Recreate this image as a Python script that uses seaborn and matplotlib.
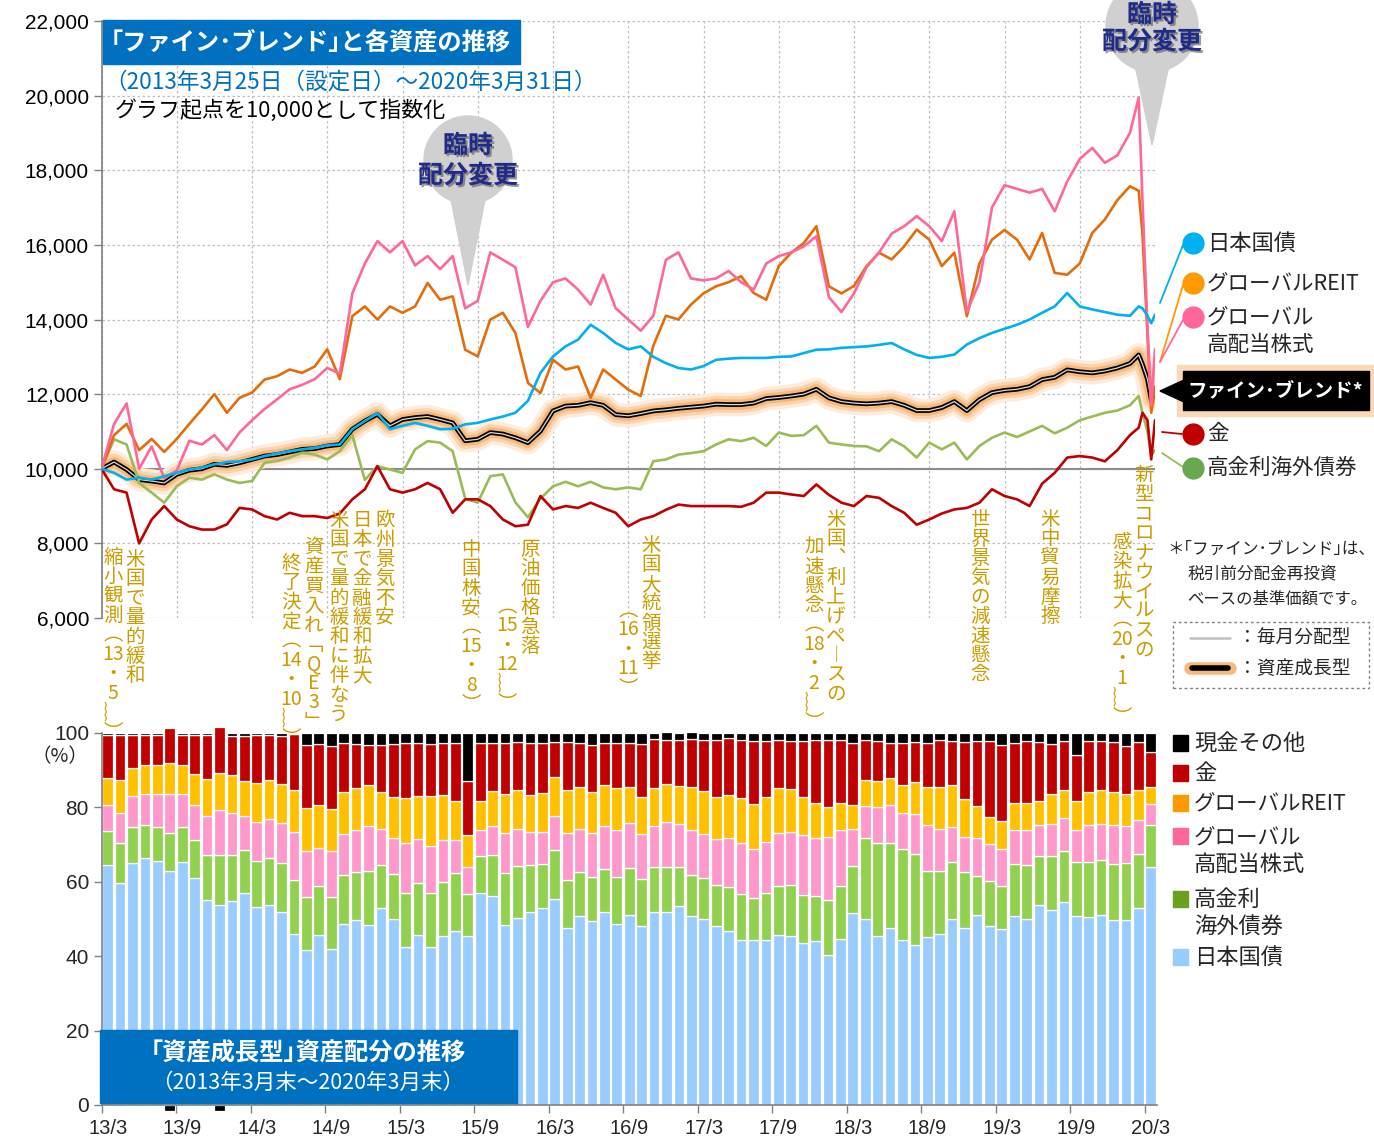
import re
import matplotlib
matplotlib.use("Agg")
import matplotlib.pyplot as plt
import matplotlib.patheffects as pe
from matplotlib.lines import Line2D
from matplotlib.patches import Rectangle, Ellipse, Polygon
import numpy as np
import seaborn as sns

# ---------------- data: index values (start = 10,000) ----------------
# month positions: 0 = end of 2013/3 ... 84 = end of 2020/3
line_months = list(range(0, 83)) + [82.7, 83.0, 83.4, 83.7, 84.0]

jgb_idx = [10000, 9890, 9710, 9760, 9710, 9800, 9890, 9980, 10030, 10120,
           10180, 10200, 10250, 10340, 10410, 10470, 10520, 10560, 10630, 10650,
           11060, 11280, 11500, 11060, 11150, 11230, 11150, 11060, 11070, 11190,
           11230, 11320, 11400, 11500, 11820, 12570, 13010, 13280, 13460, 13860,
           13640, 13370, 13200, 13280, 13000, 12830, 12700, 12660, 12750, 12920,
           12950, 12970, 12970, 12970, 13000, 13010, 13100, 13190, 13200, 13240,
           13260, 13280, 13320, 13370, 13200, 13050, 12970, 13000, 13060, 13330,
           13500, 13640, 13750, 13860, 14000, 14180, 14350, 14710, 14350, 14270,
           14200, 14130, 14100,
           14350, 14300, 14100, 13900, 14130]

reit_idx = [10000, 10900, 11200, 10500, 10800, 10450, 10800, 11200, 11590, 12000,
            11500, 11900, 12040, 12390, 12480, 12660, 12570, 12740, 13200, 12400,
            14090, 14350, 14000, 14350, 14180, 14350, 14980, 14530, 14620, 13190,
            13010, 14000, 14180, 13640, 12300, 12030, 12920, 12660, 12740, 11900,
            12660, 12390, 12120, 11950, 13300, 14100, 14000, 14400, 14700, 14890,
            15000, 15160, 14710, 14530, 15430, 15790, 16050, 16500, 14890, 14700,
            14900, 15430, 15790, 15610, 15960, 16410, 16140, 15430, 15790, 14090,
            15500, 16140, 16400, 16140, 15610, 16320, 15250, 15200, 15500, 16320,
            16680, 17200, 17570,
            17450, 16300, 13600, 11500, 12200]

stock_idx = [10000, 11200, 11750, 10000, 10600, 9750, 9950, 10750, 10650, 10900,
             10500, 10970, 11300, 11600, 11860, 12130, 12250, 12400, 12700, 12550,
             14700, 15500, 16100, 15800, 16100, 15450, 15700, 15350, 15700, 14300,
             14500, 15800, 15600, 15400, 13800, 14500, 15000, 15100, 14800, 14400,
             15200, 14300, 14000, 13700, 14100, 15600, 15800, 15100, 15050, 15100,
             15300, 15000, 14800, 15500, 15700, 15800, 15960, 16230, 14600, 14200,
             14700, 15400, 15800, 16300, 16500, 16770, 16500, 16100, 16900, 14200,
             15000, 17000, 17600, 17500, 17400, 17500, 16900, 17700, 18300, 18600,
             18200, 18400, 19000,
             19950, 17200, 13800, 11700, 13200]

hy_idx = [10000, 10790, 10650, 9620, 9360, 9090, 9530, 9760, 9710, 9850,
          9710, 9620, 9670, 10160, 10210, 10300, 10430, 10380, 10250, 10470,
          10900, 9700, 10070, 9980, 9890, 10520, 10740, 10700, 10470, 9200,
          9090, 9800, 9850, 9100, 8700, 9200, 9530, 9650, 9530, 9650,
          9500, 9450, 9500, 9450, 10200, 10250, 10380, 10420, 10470, 10650,
          10790, 10740, 10830, 10610, 10970, 10880, 10900, 11150, 10700, 10650,
          10610, 10600, 10470, 10790, 10600, 10300, 10700, 10520, 10700, 10250,
          10610, 10830, 10970, 10850, 11000, 11150, 10950, 11100, 11300, 11400,
          11500, 11560, 11700,
          11950, 11500, 11000, 10350, 10500]

gold_idx = [10000, 9450, 9360, 8000, 8640, 9000, 8640, 8460, 8370, 8370,
            8510, 8950, 8910, 8730, 8640, 8820, 8730, 8730, 8680, 8800,
            9180, 9450, 10070, 9450, 9360, 9450, 9620, 9450, 8820, 9180,
            9180, 9000, 8640, 8460, 8500, 9270, 8910, 9000, 8950, 9090,
            8950, 8820, 8460, 8640, 8730, 8900, 9040, 9000, 9000, 9000,
            9000, 8980, 9090, 9360, 9360, 9310, 9270, 9580, 9300, 9090,
            9000, 9270, 9220, 9000, 8820, 8500, 8640, 8800, 8910, 8950,
            9090, 9450, 9270, 9180, 9000, 9600, 9890, 10300, 10340, 10300,
            10200, 10500, 10900,
            11100, 11500, 11300, 10250, 11300]

fund_growth = [10000, 10180, 9980, 9710, 9670, 9620, 9850, 9960, 10000, 10120,
               10090, 10160, 10250, 10340, 10380, 10450, 10520, 10540, 10610, 10650,
               11060, 11280, 11460, 11150, 11320, 11370, 11400, 11320, 11230, 10750,
               10790, 10970, 10930, 10830, 10700, 11010, 11550, 11680, 11700, 11770,
               11700, 11450, 11420, 11480, 11550, 11580, 11620, 11650, 11680, 11730,
               11720, 11720, 11760, 11880, 11910, 11950, 12000, 12130, 11900, 11800,
               11760, 11740, 11760, 11800, 11700, 11560, 11560, 11640, 11800, 11560,
               11850, 12040, 12100, 12130, 12200, 12390, 12450, 12650, 12600, 12570,
               12620, 12700, 12820,
               13050, 12800, 12400, 11850, 12100]

fund_monthly = [10000, 10180, 9980, 9710, 9670, 9620, 9850, 9960, 10000, 10120,
                10090, 10160, 10250, 10340, 10380, 10450, 10520, 10540, 10610, 10650,
                11060, 11280, 11460, 11150, 11320, 11370, 11400, 11320, 11230, 10750,
                10790, 10970, 10930, 10830, 10700, 11010, 11550, 11680, 11700, 11770,
                11700, 11450, 11420, 11480, 11550, 11580, 11620, 11650, 11680, 11730,
                11720, 11720, 11760, 11880, 11910, 11950, 12000, 12130, 11900, 11800,
                11760, 11740, 11760, 11800, 11700, 11560, 11560, 11640, 11800, 11560,
                11850, 12040, 12100, 12130, 12200, 12390, 12450, 12650, 12600, 12570,
                12620, 12700, 12820,
                13050, 12800, 12400, 11850, 12100]

# ---------------- data: monthly allocation (%) of 資産成長型 ----------------
alloc_jgb = [64.5, 59.6, 65.0, 66.5, 65.6, 62.9, 65.4, 60.9, 55.2, 53.8,
             54.9, 56.9, 53.2, 53.8, 51.9, 46.0, 41.8, 45.6, 42.0, 48.6,
             49.6, 48.5, 52.9, 50.1, 42.4, 45.6, 42.4, 45.3, 46.7, 45.3,
             56.9, 56.2, 48.5, 50.4, 52.0, 52.9, 55.3, 47.6, 50.7, 49.4,
             51.8, 48.6, 51.0, 48.0, 51.8, 51.8, 53.4, 50.9, 50.0, 48.2,
             46.7, 44.4, 44.4, 44.4, 45.8, 45.5, 43.6, 44.0, 40.4, 44.7,
             51.6, 50.0, 45.5, 47.7, 44.4, 43.1, 45.1, 46.0, 50.1, 47.6,
             51.1, 48.2, 47.3, 50.9, 50.0, 53.8, 52.5, 54.7, 50.9, 50.5,
             51.0, 49.6, 49.6, 52.9, 63.9]
alloc_hy = [9.1, 10.7, 9.6, 8.9, 9.0, 10.3, 9.4, 10.3, 11.9, 13.4,
            12.3, 11.6, 12.4, 12.7, 13.1, 14.5, 14.1, 13.3, 13.8, 13.2,
            13.1, 14.3, 11.6, 11.9, 14.5, 14.0, 14.5, 14.7, 15.8, 11.4,
            10.1, 11.1, 14.0, 13.8, 12.5, 12.0, 13.2, 12.9, 12.0, 12.0,
            11.7, 12.6, 12.8, 12.8, 12.3, 12.3, 10.7, 11.0, 11.1, 11.0,
            12.0, 12.3, 11.3, 12.7, 13.1, 13.6, 12.9, 12.2, 14.7, 14.3,
            12.7, 21.7, 24.8, 22.8, 24.5, 24.5, 17.9, 16.9, 15.3, 15.0,
            10.5, 11.9, 11.6, 13.9, 14.5, 13.1, 14.4, 13.6, 14.5, 14.9,
            14.9, 15.2, 15.5, 14.7, 11.5]
alloc_stock = [7.1, 8.3, 8.4, 8.3, 9.1, 10.4, 8.9, 9.5, 10.7, 12.2,
               11.4, 9.2, 10.5, 10.5, 10.7, 12.9, 12.5, 10.3, 12.5, 11.0,
               11.3, 12.2, 9.8, 9.8, 13.4, 11.8, 12.7, 11.3, 8.7, 7.3,
               6.9, 7.8, 10.5, 9.9, 8.9, 8.6, 9.2, 12.5, 11.4, 11.6,
               11.5, 12.7, 11.9, 12.0, 10.9, 11.9, 11.4, 11.9, 11.7, 12.3,
               13.1, 13.6, 13.2, 13.6, 14.1, 14.3, 16.0, 15.6, 16.9, 14.9,
               9.9, 8.7, 9.8, 10.2, 9.5, 10.5, 12.2, 11.2, 9.2, 9.4,
               10.2, 10.0, 9.8, 9.1, 9.4, 8.3, 8.6, 8.8, 8.5, 9.8,
               9.6, 10.4, 9.9, 9.1, 5.4]
alloc_reit = [7.2, 8.9, 7.6, 7.6, 7.8, 8.3, 7.6, 8.3, 9.8, 9.9,
              10.0, 9.5, 10.4, 10.4, 10.5, 11.3, 11.5, 11.4, 11.4, 11.3,
              11.1, 11.0, 9.8, 11.1, 12.2, 11.6, 13.4, 12.1, 10.4, 8.5,
              7.8, 9.2, 10.7, 10.7, 9.8, 10.3, 10.6, 11.6, 11.5, 11.1,
              11.0, 11.3, 9.8, 10.0, 10.3, 10.3, 10.2, 11.8, 11.6, 11.3,
              11.6, 12.2, 12.0, 12.0, 12.3, 11.6, 10.3, 9.5, 8.0, 7.4,
              6.4, 6.9, 6.9, 7.1, 7.7, 8.6, 10.4, 11.5, 11.3, 10.3,
              8.6, 7.2, 7.6, 7.3, 7.3, 6.4, 8.0, 7.7, 7.8, 8.9,
              9.1, 8.9, 8.6, 8.1, 4.6]
alloc_gold = [11.5, 11.9, 8.9, 8.2, 7.9, 9.5, 8.2, 10.4, 11.9, 12.2,
              10.7, 12.0, 12.9, 12.0, 13.1, 15.0, 16.8, 16.5, 16.8, 13.2,
              11.9, 10.9, 12.8, 14.1, 14.7, 14.3, 14.1, 13.8, 15.7, 14.7,
              15.6, 12.9, 13.6, 12.7, 14.1, 13.5, 9.2, 12.9, 11.7, 12.8,
              11.4, 12.1, 11.9, 14.3, 13.0, 11.8, 12.3, 12.8, 13.6, 15.2,
              15.2, 15.7, 16.9, 15.2, 12.9, 12.9, 15.0, 16.9, 18.1, 16.7,
              16.8, 10.7, 10.8, 9.5, 11.3, 11.0, 11.7, 12.6, 12.0, 15.3,
              17.4, 20.5, 20.5, 16.1, 16.6, 16.1, 13.6, 13.1, 12.5, 13.8,
              13.2, 13.4, 12.9, 12.7, 9.6]
alloc_cash = [0.5, 0.5, 0.5, 0.5, 0.5, -1.5, 0.5, 0.5, 0.5, -1.5,
              0.7, 0.7, 0.5, 0.5, 0.7, 0.3, 3.4, 2.9, 3.6, 2.7,
              2.9, 3.2, 3.1, 2.9, 2.8, 2.8, 2.9, 2.7, 2.7, 12.8,
              2.8, 2.7, 2.7, 2.5, 2.7, 2.7, 2.5, 2.5, 2.7, 3.1,
              2.7, 2.7, 2.7, 2.9, 1.8, 2.1, 2.1, 1.8, 2.1, 2.1,
              1.4, 1.8, 2.1, 2.1, 1.8, 2.1, 2.2, 1.8, 1.8, 2.1,
              2.7, 2.1, 2.2, 2.7, 2.5, 2.2, 2.7, 1.8, 2.1, 2.5,
              2.2, 2.2, 3.2, 2.7, 2.2, 2.2, 2.9, 2.1, 5.9, 2.1,
              2.2, 2.5, 3.4, 2.5, 4.9]

month_labels = ["13/3", "13/9", "14/3", "14/9", "15/3", "15/9", "16/3", "16/9",
                "17/3", "17/9", "18/3", "18/9", "19/3", "19/9", "20/3"]

events = [
    (135, 549, "米国で量的緩和"),
    (113, 547, "縮小観測（13・5〜）"),
    (339, 510, "米国で量的緩和に伴なう"),
    (314, 537, "資産買入れ「QE3」"),
    (291, 553, "終了決定（14・10〜）"),
    (362, 510, "日本で金融緩和拡大"),
    (385, 510, "欧州景気不安"),
    (471, 539, "中国株安（15・8）"),
    (530, 539, "原油価格急落"),
    (507, 596, "（15・12〜）"),
    (651, 535, "米国大統領選挙"),
    (628, 600, "（16・11）"),
    (836, 509, "米国、利上げペースの"),
    (814, 537, "加速懸念（18・2〜）"),
    (980, 509, "世界景気の減速懸念"),
    (1050, 509, "米中貿易摩擦"),
    (1144, 465, "新型コロナウイルスの"),
    (1122, 532, "感染拡大（20・1〜）"),
]

# ---------------- style ----------------
sns.set_theme(style="white")
plt.rcParams['font.family'] = ['Noto Sans CJK JP', 'DejaVu Sans']
NUMFONT = ['Liberation Sans', 'DejaVu Sans']

W, H = 1374, 1142
fig = plt.figure(figsize=(W / 100, H / 100), dpi=100)
fig.patch.set_facecolor('white')


def fx(px):
    return px / W


def fy(py):
    return 1 - py / H


C_BLUE, C_ORANGE, C_PINK, C_GREEN, C_RED = '#00B0F0', '#E46C0A', '#FF6699', '#9BBB59', '#C00000'
ANN = '#C99C00'

# ---------------- top: index lines ----------------
ax1 = fig.add_axes([fx(101.5), fy(618), (1155 - 101.5) / W, (618 - 21) / H])
ax1.set_facecolor('none')
ax1.set_xlim(0, 84)
ax1.set_ylim(6000, 22000)
yt = list(range(6000, 22001, 2000))
ax1.set_yticks(yt)
ax1.set_yticklabels([f"{v:,}" for v in yt], fontsize=15, fontfamily=NUMFONT)
ax1.set_xticks(range(0, 85, 6))
ax1.set_xticklabels([])
ax1.tick_params(axis='x', length=0, bottom=False)
ax1.tick_params(axis='y', left=True, length=6, width=1, color='#808080', pad=3, labelcolor='black')
ax1.grid(True, color='#BFBFBF', lw=0.9, ls=(0, (2, 2)))
for s in ['top', 'right', 'bottom']:
    ax1.spines[s].set_visible(False)
ax1.spines['left'].set_color('#808080')
ax1.spines['left'].set_linewidth(1.2)
ax1.axhline(10000, color='#8C8C8C', lw=1.5, zorder=1.5)


def sline(vals, color, lw, z, alpha=1.0):
    sns.lineplot(x=line_months, y=vals, ax=ax1, color=color, lw=lw, zorder=z,
                 alpha=alpha, estimator=None, sort=False, legend=False,
                 solid_joinstyle='round', solid_capstyle='round')


# glow + fund lines
sline(fund_growth, '#FDEBDC', 17, 2.0)
sline(fund_growth, '#FBD3AC', 12, 2.1)
sline(fund_growth, '#F8B878', 7.5, 2.2)
sline(fund_growth, 'black', 3.4, 3.0)
sline(fund_monthly, '#D9D9D9', 0.9, 3.1)
# assets
sline(hy_idx, C_GREEN, 1.9, 4.0)
sline(gold_idx, C_RED, 1.9, 4.1)
sline(reit_idx, C_ORANGE, 1.9, 4.2)
sline(stock_idx, C_PINK, 1.9, 4.3)
sline(jgb_idx, C_BLUE, 1.9, 4.4)
ax1.set_xlabel('')
ax1.set_ylabel('')

# ---------------- bottom: stacked allocation bars ----------------
ax2 = fig.add_axes([fx(101.5), fy(1105), (1157 - 101.5) / W, (1105 - 733) / H])
ax2.set_facecolor('none')
xb = np.arange(len(alloc_jgb))
bottom = np.zeros(len(xb))
for vals, col in [(alloc_jgb, '#99CCFF'), (alloc_hy, '#92D050'), (alloc_stock, '#FF99CC'),
                  (alloc_reit, '#FFC000'), (alloc_gold, '#C00000')]:
    v = np.array(vals)
    ax2.bar(xb, v, bottom=bottom, width=0.86, color=col, edgecolor='white', lw=0.9, clip_on=False, zorder=2)
    bottom = bottom + v
cash = np.array(alloc_cash)
ax2.bar(xb, cash, bottom=np.where(cash > 0, bottom, 0), width=0.86, color='black',
        edgecolor='white', lw=0.9, clip_on=False, zorder=2)
ax2.set_xlim(-0.5, 84.5)
ax2.set_ylim(0, 100)
ax2.set_yticks(range(0, 101, 20))
ax2.set_yticklabels([str(v) for v in range(0, 101, 20)], fontsize=15, fontfamily=NUMFONT)
ax2.set_xticks(np.arange(0, 85, 6))
ax2.set_xticklabels(month_labels, fontsize=14.5, fontfamily=NUMFONT)
ax2.set_xticks(np.arange(-0.5, 84, 6), minor=True)
ax2.tick_params(axis='x', which='major', length=0, pad=10, bottom=True)
ax2.tick_params(axis='x', which='minor', length=6, width=1, color='#808080', bottom=True)
ax2.tick_params(axis='y', left=True, length=6, width=1, color='#808080', pad=3)
for s in ['top', 'right']:
    ax2.spines[s].set_visible(False)
for s in ['left', 'bottom']:
    ax2.spines[s].set_color('#808080')
    ax2.spines[s].set_linewidth(1.2)
    ax2.spines[s].set_zorder(3)
fig.text(fx(60), fy(757), "（%）", ha='center', va='center', fontsize=14)

# ---------------- titles ----------------
fig.add_artist(Rectangle((fx(103), fy(64)), (520 - 103) / W, (64 - 20) / H,
                         transform=fig.transFigure, color='#0070C0', zorder=5))
fig.text(fx(311), fy(43), "｢ファイン･ブレンド｣と各資産の推移", ha='center', va='center',
         fontsize=17.5, color='white', fontweight='bold', zorder=6)
fig.text(fx(104), fy(82), "（2013年3月25日（設定日）〜2020年3月31日）", ha='left', va='center',
         fontsize=16.3, color='#0070C0', zorder=6)
fig.text(fx(115), fy(111), "グラフ起点を10,000として指数化", ha='left', va='center',
         fontsize=15.8, color='black', zorder=6)

fig.add_artist(Rectangle((fx(100), fy(1103)), (517 - 100) / W, (1103 - 1030) / H,
                         transform=fig.transFigure, color='#0070C0', zorder=5))
fig.text(fx(308), fy(1054), "｢資産成長型｣資産配分の推移", ha='center', va='center',
         fontsize=17.5, color='white', fontweight='bold', zorder=6)
fig.text(fx(308), fy(1083), "（2013年3月末〜2020年3月末）", ha='center', va='center',
         fontsize=15.5, color='white', zorder=6)

# ---------------- call-out balloons ----------------
def balloon(cx, cy, tipy, r=46, dy_top=-14):
    fig.add_artist(Polygon([(fx(cx - 20), fy(cy + 25)), (fx(cx + 20), fy(cy + 25)), (fx(cx), fy(tipy))],
                           closed=True, transform=fig.transFigure, color='#D0D0D0', zorder=5))
    fig.add_artist(Ellipse((fx(cx), fy(cy)), 2 * r / W, 2 * r / H, transform=fig.transFigure,
                           color='#D0D0D0', zorder=5))
    eff = [pe.withSimplePatchShadow(offset=(1.5, -1.5), shadow_rgbFace='#555555', alpha=0.6)]
    fig.text(fx(cx), fy(cy + dy_top), "臨時", ha='center', va='center', fontsize=18, color='#1F2A8A',
             fontweight='bold', zorder=6, path_effects=eff)
    fig.text(fx(cx), fy(cy + 16), "配分変更", ha='center', va='center', fontsize=18, color='#1F2A8A',
             fontweight='bold', zorder=6, path_effects=eff)


balloon(468, 160, 285, r=44)
balloon(1152, 26, 145, r=46, dy_top=-11)

# ---------------- vertical event notes (one text per column) ----------------
VFORM = {'（': '︵', '）': '︶', '「': '﹁', '」': '﹂', '〜': '︴', 'ー': '︱', '、': '︑'}
_r = fig.canvas.get_renderer()


def _pitch(ls):
    a = fig.text(0, 0, "米", fontsize=14, linespacing=ls)
    b = fig.text(0, 0, "米\n米", fontsize=14, linespacing=ls)
    p = b.get_window_extent(_r).height - a.get_window_extent(_r).height
    a.remove()
    b.remove()
    return p


_p1, _p2 = _pitch(1.0), _pitch(2.0)
VLS = 1.0 + (19.4 - _p1) / (_p2 - _p1)


def vtext(px, py, s, size=14, color=ANN):
    toks = [VFORM.get(t, t) for t in re.findall(r'[0-9]+|.', s)]
    fig.text(fx(px), fy(py), "\n".join(toks), ha='center', va='top', multialignment='center',
             fontsize=size, color=color, linespacing=VLS, zorder=6)


for px, py, s in events:
    vtext(px, py, s)

# ---------------- right-side legend (top) ----------------
def leader(p0, p1, col):
    fig.add_artist(Line2D([fx(p0[0]), fx(p1[0])], [fy(p0[1]), fy(p1[1])], color=col, lw=1.3,
                          transform=fig.transFigure, zorder=5))


def dot(px, py, col):
    fig.add_artist(Line2D([fx(px)], [fy(py)], marker='o', ms=15, color=col, mec=col,
                          transform=fig.transFigure, zorder=6))


leader((1160, 303), (1183, 245), C_BLUE)
leader((1160, 362), (1183, 285), '#FF9900')
leader((1160, 362), (1183, 320), C_PINK)
leader((1162, 432), (1182, 434), C_RED)
leader((1162, 453), (1183, 467), '#9BBB59')

dot(1193, 243, '#00B0F0')
fig.text(fx(1207), fy(243), "日本国債", va='center', fontsize=16)
dot(1193, 283, '#FF9900')
fig.text(fx(1207), fy(283), "グローバルREIT", va='center', fontsize=15.5)
dot(1193, 317, '#FF6699')
fig.text(fx(1207), fy(317), "グローバル", va='center', fontsize=15.5)
fig.text(fx(1207), fy(345), "高配当株式", va='center', fontsize=15.5)
dot(1193, 434, '#C00000')
fig.text(fx(1207), fy(434), "金", va='center', fontsize=15.5)
dot(1193, 468, '#6AA84F')
fig.text(fx(1207), fy(468), "高金利海外債券", va='center', fontsize=15.5)

fig.add_artist(Rectangle((fx(1177), fy(416)), (1374 - 1177) / W, (416 - 365) / H,
                         transform=fig.transFigure, color='#FCD9B6', zorder=5))
fig.add_artist(Rectangle((fx(1183), fy(410)), (1369 - 1183) / W, (410 - 371) / H,
                         transform=fig.transFigure, color='black', zorder=5))
fig.add_artist(Polygon([(fx(1160), fy(391)), (fx(1184), fy(380)), (fx(1184), fy(402))], closed=True,
                       transform=fig.transFigure, color='black', zorder=5))
fig.text(fx(1275), fy(391), "ファイン･ブレンド*", ha='center', va='center', fontsize=14,
         color='white', fontweight='bold', zorder=6)

fig.text(fx(1167), fy(549), "＊｢ファイン･ブレンド｣は、", va='center', fontsize=12)
fig.text(fx(1187), fy(574), "税引前分配金再投資", va='center', fontsize=12)
fig.text(fx(1187), fy(599), "ベースの基準価額です。", va='center', fontsize=11.8)

fig.add_artist(Rectangle((fx(1173), fy(688)), (1369 - 1173) / W, (688 - 622) / H,
                         transform=fig.transFigure, fill=False, edgecolor='#808080', lw=1,
                         ls=(0, (2, 2)), zorder=5))
fig.add_artist(Line2D([fx(1190), fx(1230)], [fy(638), fy(638)], color='#BFBFBF', lw=1.8,
                      transform=fig.transFigure, zorder=6))
fig.text(fx(1238), fy(638), "：毎月分配型", va='center', fontsize=13.5)
fig.add_artist(Line2D([fx(1190), fx(1230)], [fy(668), fy(668)], color='#F8B878', lw=9,
                      transform=fig.transFigure, zorder=6))
fig.add_artist(Line2D([fx(1192), fx(1228)], [fy(668), fy(668)], color='black', lw=4,
                      transform=fig.transFigure, zorder=6))
fig.text(fx(1238), fy(668), "：資産成長型", va='center', fontsize=13.5)

# ---------------- right-side legend (bottom) ----------------
def square(py, col):
    fig.add_artist(Rectangle((fx(1173), fy(py + 8)), 15 / W, 16 / H, transform=fig.transFigure,
                             color=col, zorder=6))


square(743, 'black')
fig.text(fx(1194), fy(743), "現金その他", va='center', fontsize=16)
square(773, '#C00000')
fig.text(fx(1194), fy(773), "金", va='center', fontsize=16)
square(803, '#FF9900')
fig.text(fx(1194), fy(803), "グローバルREIT", va='center', fontsize=15.5)
square(836, '#FF6699')
fig.text(fx(1194), fy(837), "グローバル", va='center', fontsize=15.5)
fig.text(fx(1194), fy(864), "高配当株式", va='center', fontsize=16)
square(899, '#6AA121')
fig.text(fx(1194), fy(899), "高金利", va='center', fontsize=16)
fig.text(fx(1194), fy(926), "海外債券", va='center', fontsize=16)
square(957, '#99CCFF')
fig.text(fx(1194), fy(957), "日本国債", va='center', fontsize=16)

fig.savefig("out.png", dpi=100)
